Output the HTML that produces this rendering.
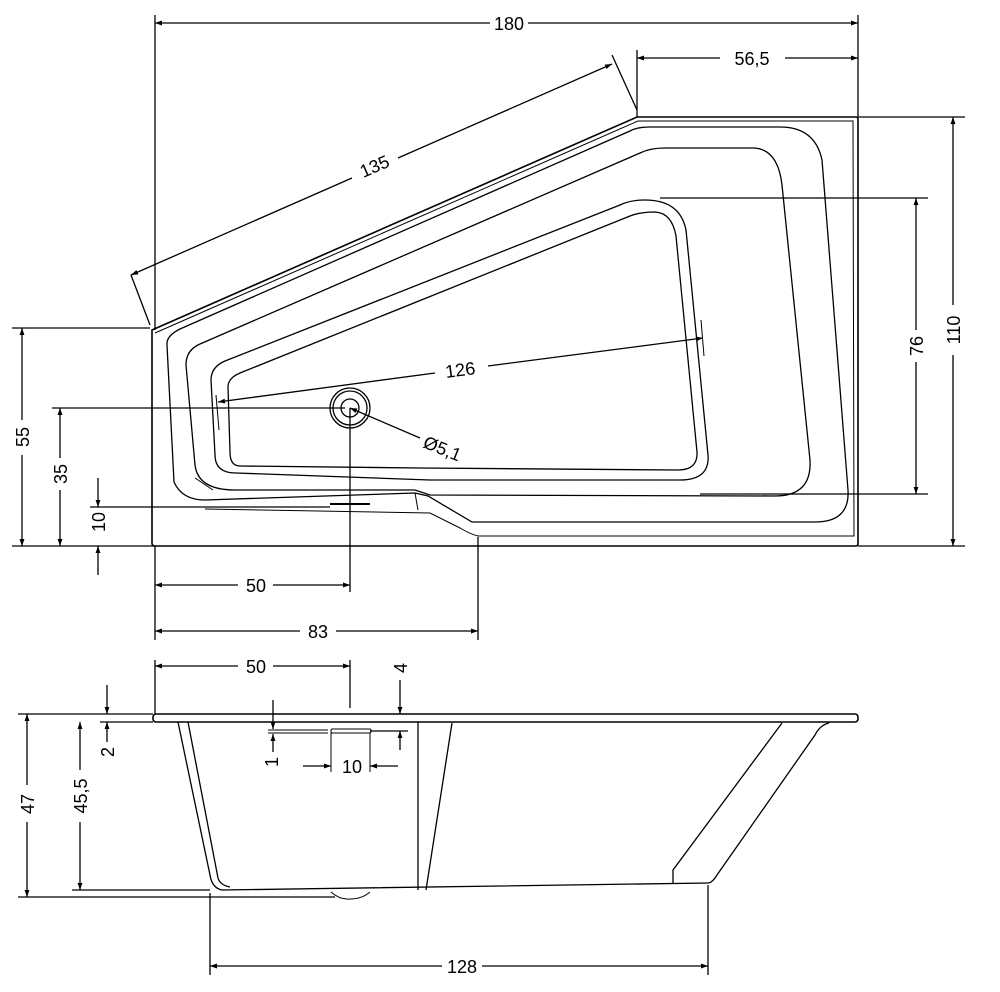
<!DOCTYPE html>
<html><head><meta charset="utf-8"><style>
html,body{margin:0;padding:0;background:#fff;}
svg{display:block;}
text{font-family:"Liberation Sans",sans-serif;font-size:18px;fill:#000;}
</style></head><body>
<svg width="1000" height="992" viewBox="0 0 1000 992" xmlns="http://www.w3.org/2000/svg">
<defs>
<marker id="a" viewBox="0 0 10 10" refX="10" refY="5" markerWidth="9" markerHeight="7" orient="auto-start-reverse" markerUnits="userSpaceOnUse"><path d="M0,1.5 L10,5 L0,8.5Z" fill="#000"/></marker>
</defs>
<g fill="none" stroke="#000" stroke-width="1.3">
<!-- TOP VIEW outline -->
<path d="M152,330 L637,117 L856,117 Q858,117 858,120 L858,544 Q858,546 855,546 L155,546 Q152,546 152,543 Z" stroke-width="1.6"/>
<path d="M155,333 L638,121 L853,121 L854,536 L478,536 Q470,534 460,528 L430,513 L205,509" stroke-width="1"/>
<path d="M167,345 Q166,336 180,329 L630,131 Q637,127 650,127 L780,127 Q815,127 822,160 L848,490 Q850,522 815,522 L472,522 L428,496 L415,493 L205,500 Q182,500 174,482 Z"/>
<path d="M186,365 Q186,350 200,344 L640,153 Q650,148 665,148 L755,148 Q778,150 782,185 L810,460 Q812,496 775,496 L430,495 L415,490 L235,490 Q198,490 195,465 Z"/>
<path d="M211,380 Q211,367 225,361 L620,205 Q630,200 645,200 Q680,200 686,230 L708,455 Q710,480 680,480 L430,480 L236,473 Q215,473 215,455 Z"/>
<path d="M228,387 Q228,378 240,373 L630,216 Q640,212 655,212 Q672,213 676,236 L697,452 Q698,470 678,470 L420,468 L240,466 Q230,466 230,452 Z"/>
<path d="M195,478 L213,490 M415,493 L418,510" stroke-width="1"/>
<path d="M330,504 L370,504" stroke-width="2"/>
<circle cx="350" cy="408" r="9"/><circle cx="350" cy="408" r="17"/><circle cx="350" cy="408" r="20"/>
<!-- 180 -->
<path d="M155,15 L155,330 M858,15 L858,117"/>
<path d="M155,23 L490,23 M528,23 L858,23" marker-start="url(#a)" marker-end="url(#a)"/>
<!-- 56,5 -->
<path d="M637,50 L637,117"/>
<path d="M637,58 L720,58 M785,58 L858,58" marker-start="url(#a)" marker-end="url(#a)"/>
<!-- 135 -->
<path d="M150,325 L131,275 M637,110 L612,55"/>
<path d="M131,275 L352,178 M398,158 L612,64" marker-start="url(#a)" marker-end="url(#a)"/>
<!-- 110 -->
<path d="M858,117 L965,117 M858,546 L965,546"/>
<path d="M953,117 L953,305 M953,355 L953,546" marker-start="url(#a)" marker-end="url(#a)"/>
<!-- 76 -->
<path d="M660,198 L928,198 M700,494 L928,494"/>
<path d="M916,198 L916,330 M916,362 L916,494" marker-start="url(#a)" marker-end="url(#a)"/>
<!-- 55 -->
<path d="M12,328 L150,328 M12,546 L155,546"/>
<path d="M22,328 L22,420 M22,455 L22,546" marker-start="url(#a)" marker-end="url(#a)"/>
<!-- 35 -->
<path d="M52,408 L345,408"/>
<path d="M60,408 L60,458 M60,490 L60,546" marker-start="url(#a)" marker-end="url(#a)"/>
<!-- 10 -->
<path d="M90,507 L330,507"/>
<path d="M98,478 L98,507" marker-end="url(#a)"/>
<path d="M98,575 L98,546" marker-end="url(#a)"/>
<!-- 126 -->
<path d="M216,395 L219,430 M701,320 L704,356" stroke-width="1"/>
<path d="M218,402 L435,373 M488,366 L703,338" marker-start="url(#a)" marker-end="url(#a)"/>
<!-- dia -->
<path d="M350,408 L420,438" marker-start="url(#a)"/>
<!-- 50 / 83 -->
<path d="M350,408 L350,592 M155,546 L155,640 M478,537 L478,640"/>
<path d="M155,585 L238,585 M273,585 L350,585" marker-start="url(#a)" marker-end="url(#a)"/>
<path d="M155,631 L300,631 M336,631 L478,631" marker-start="url(#a)" marker-end="url(#a)"/>

<!-- SIDE VIEW -->
<rect x="153" y="714" width="705" height="8" rx="3" stroke-width="1.6"/>
<path d="M178,722 L210,875 Q212,888 222,890 L708,883 M188,722 L218,878 Q220,885 230,887"/>
<path d="M782,723 L673,870 L673,883 M829,723 Q820,725 815,735 L717,875 Q712,883 708,883"/>
<path d="M418,722 L418,890 M452,723 L426,890"/>
<path d="M331,892 Q340,900 350,899 Q362,899 370,892" stroke-width="1"/>
<path d="M268,730 L328,730 M268,733 L328,733" stroke-width="1"/>
<rect x="331" y="729" width="40" height="4" rx="1.5" stroke-width="1"/>
<!-- 50 side -->
<path d="M350,660 L350,708 M155,660 L155,714"/>
<path d="M155,666 L238,666 M273,666 L350,666" marker-start="url(#a)" marker-end="url(#a)"/>
<!-- 4 -->
<path d="M400,680 L400,714" marker-end="url(#a)"/>
<path d="M400,750 L400,731" marker-end="url(#a)"/>
<path d="M370,731 L408,731"/>
<!-- 1 -->
<path d="M273,700 L273,729" marker-end="url(#a)"/>
<path d="M273,752 L273,734" marker-end="url(#a)"/>
<!-- 10 side -->
<path d="M331,733 L331,772 M370,733 L370,772" stroke-width="1"/>
<path d="M303,766 L331,766" marker-end="url(#a)"/>
<path d="M398,766 L370,766" marker-end="url(#a)"/>
<!-- 2 -->
<path d="M100,714 L153,714 M100,722 L153,722"/>
<path d="M107,685 L107,714" marker-end="url(#a)"/>
<path d="M107,742 L107,722" marker-end="url(#a)"/>
<!-- 47 -->
<path d="M18,714 L100,714 M18,897 L335,897"/>
<path d="M27,714 L27,785 M27,822 L27,897" marker-start="url(#a)" marker-end="url(#a)"/>
<!-- 45,5 -->
<path d="M72,890 L210,890"/>
<path d="M80,722 L80,770 M80,822 L80,890" marker-start="url(#a)" marker-end="url(#a)"/>
<!-- 128 -->
<path d="M210,893 L210,975 M708,885 L708,975"/>
<path d="M210,966 L442,966 M482,966 L708,966" marker-start="url(#a)" marker-end="url(#a)"/>
</g>
<g>
<text x="509" y="30" text-anchor="middle">180</text>
<text x="752" y="65" text-anchor="middle">56,5</text>
<text transform="translate(377,172) rotate(-23.6)" text-anchor="middle">135</text>
<text transform="translate(960,330) rotate(-90)" text-anchor="middle">110</text>
<text transform="translate(923,346) rotate(-90)" text-anchor="middle">76</text>
<text transform="translate(29,437) rotate(-90)" text-anchor="middle">55</text>
<text transform="translate(67,474) rotate(-90)" text-anchor="middle">35</text>
<text transform="translate(105,522) rotate(-90)" text-anchor="middle">10</text>
<text transform="translate(461,376) rotate(-7.5)" text-anchor="middle">126</text>
<text transform="translate(422,447) rotate(22)">Ø5,1</text>
<text x="256" y="592" text-anchor="middle">50</text>
<text x="318" y="638" text-anchor="middle">83</text>
<text x="256" y="673" text-anchor="middle">50</text>
<text transform="translate(407,668) rotate(-90)" text-anchor="middle">4</text>
<text transform="translate(278,762) rotate(-90)" text-anchor="middle">1</text>
<text x="352" y="773" text-anchor="middle">10</text>
<text transform="translate(114,752) rotate(-90)" text-anchor="middle">2</text>
<text transform="translate(34,804) rotate(-90)" text-anchor="middle">47</text>
<text transform="translate(87,796) rotate(-90)" text-anchor="middle">45,5</text>
<text x="462" y="973" text-anchor="middle">128</text>
</g>
</svg>
</body></html>
